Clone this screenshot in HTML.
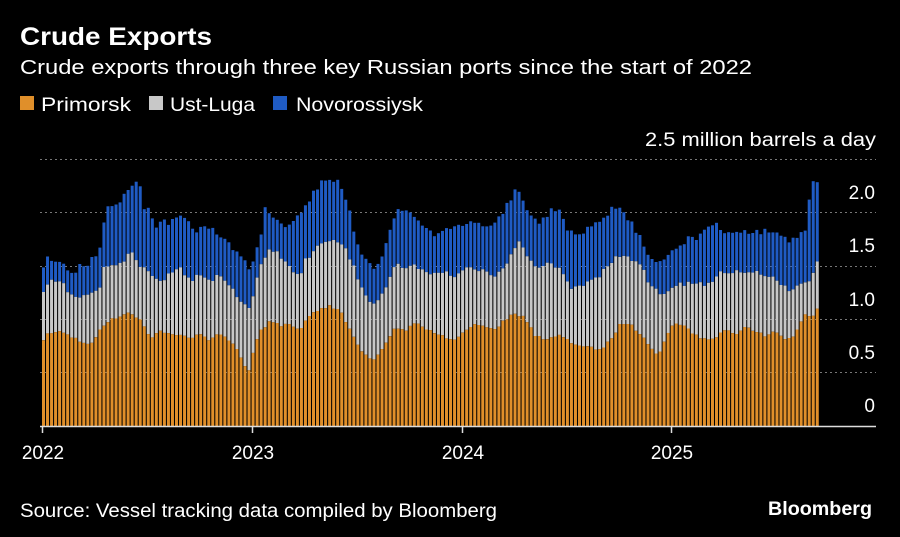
<!DOCTYPE html>
<html><head><meta charset="utf-8"><style>
html,body{margin:0;padding:0;background:#000;width:900px;height:537px;overflow:hidden}
text{font-family:"Liberation Sans","DejaVu Sans",sans-serif}
</style></head><body>
<svg id="s" width="900" height="537" xmlns="http://www.w3.org/2000/svg" style="position:absolute;left:0;top:0">
<rect width="900" height="537" fill="#000"/>
<text x="20" y="45" fill="#fff" font-size="25" font-weight="bold" textLength="192" lengthAdjust="spacingAndGlyphs">Crude Exports</text>
<text x="20" y="74" fill="#fff" font-size="20" textLength="732" lengthAdjust="spacingAndGlyphs">Crude exports through three key Russian ports since the start of 2022</text>
<rect x="20" y="96" width="14" height="14" fill="#e08f2a"/><text x="41" y="111" fill="#fff" font-size="19" textLength="90" lengthAdjust="spacingAndGlyphs">Primorsk</text>
<rect x="149" y="96" width="14" height="14" fill="#c8c8c8"/><text x="170" y="111" fill="#fff" font-size="19" textLength="85" lengthAdjust="spacingAndGlyphs">Ust-Luga</text>
<rect x="273" y="96" width="14" height="14" fill="#1f5bc4"/><text x="296" y="111" fill="#fff" font-size="19" textLength="127" lengthAdjust="spacingAndGlyphs">Novorossiysk</text>
<text x="645" y="146" fill="#fff" font-size="19" textLength="231" lengthAdjust="spacingAndGlyphs">2.5 million barrels a day</text>
<g id="grid" stroke="#777" stroke-dasharray="2,3" stroke-width="1">
<line x1="40" x2="876" y1="159.5" y2="159.5"/><line x1="40" x2="876" y1="212.5" y2="212.5"/><line x1="40" x2="876" y1="266.5" y2="266.5"/><line x1="40" x2="876" y1="319.5" y2="319.5"/><line x1="40" x2="876" y1="372.5" y2="372.5"/>
</g>
<g id="bars"></g>
<g fill="#fff" font-size="19" text-anchor="end">
<text x="875" y="199">2.0</text><text x="875" y="252">1.5</text><text x="875" y="306">1.0</text><text x="875" y="359">0.5</text><text x="875" y="412">0</text>
</g>
<line x1="40" x2="876" y1="426.5" y2="426.5" stroke="#ddd" stroke-width="1.5"/>
<g stroke="#ddd" stroke-width="1.5"><line x1="42.5" x2="42.5" y1="426" y2="433"/><line x1="252.5" x2="252.5" y1="426" y2="433"/><line x1="462.5" x2="462.5" y1="426" y2="433"/><line x1="671.5" x2="671.5" y1="426" y2="433"/></g>
<g fill="#fff" font-size="19" text-anchor="middle">
<text x="43" y="459">2022</text><text x="253" y="459">2023</text><text x="463" y="459">2024</text><text x="672" y="459">2025</text>
</g>
<text x="20" y="517" fill="#fff" font-size="19" textLength="477" lengthAdjust="spacingAndGlyphs">Source: Vessel tracking data compiled by Bloomberg</text>
<text x="768" y="515" fill="#fff" font-size="19" font-weight="bold" textLength="104" lengthAdjust="spacingAndGlyphs">Bloomberg</text>
</svg>
<script>
var O=[[42,350],[45,332],[60,332],[70,335],[80,342],[90,345],[100,330],[110,320],[120,316],[130,313],[140,318],[150,338],[160,330],[170,335],[180,335],[190,338],[200,335],[210,340],[220,333],[230,340],[240,355],[248,373],[255,345],[260,330],[270,322],[280,325],[290,325],[300,330],[310,315],[320,308],[330,306],[340,310],[350,330],[360,350],[370,358],[375,360],[385,345],[395,327],[405,332],[415,322],[425,328],[435,332],[445,338],[455,340],[465,330],[475,325],[485,327],[495,330],[505,320],[515,313],[525,318],[535,335],[545,340],[560,335],[570,342],[580,345],[590,346],[600,350],[610,340],[620,325],[630,322],[640,335],[650,345],[658,355],[665,340],[675,322],[685,325],[695,335],[705,340],[715,338],[725,330],[735,335],[745,328],[755,330],[765,335],[775,330],[785,340],[795,335],[805,313],[812,316],[818,308]];
var G=[[42,295],[50,278],[60,282],[70,292],[80,298],[90,295],[100,286],[105,265],[115,265],[125,260],[130,250],[140,265],[150,272],[160,280],[170,275],[180,268],[190,282],[200,275],[210,280],[220,275],[230,285],[240,300],[248,310],[255,288],[262,260],[270,248],[280,256],[290,268],[300,275],[305,260],[315,250],[325,240],[335,240],[345,248],[355,270],[365,295],[375,305],[385,290],[395,265],[405,268],[415,265],[425,270],[435,275],[445,273],[455,275],[465,266],[475,268],[485,270],[495,275],[505,264],[515,250],[520,242],[530,260],[540,270],[550,262],[560,270],[570,287],[580,288],[590,282],[600,275],[610,262],[620,255],[630,258],[640,262],[650,285],[660,295],[670,290],[680,285],[690,282],[700,284],[710,283],[720,270],[730,272],[740,270],[750,272],[760,273],[770,275],[780,285],[790,290],[800,282],[810,282],[818,258]];
var T=[[42,272],[48,258],[55,260],[62,265],[70,275],[80,265],[90,262],[100,250],[105,212],[110,205],[120,200],[127,193],[135,180],[140,185],[145,210],[150,210],[155,225],[165,222],[175,222],[185,215],[195,230],[205,228],[215,232],[225,240],[235,250],[245,262],[250,272],[255,258],[262,230],[266,205],[275,222],[285,225],[295,222],[300,212],[310,198],[320,185],[328,178],[340,180],[348,205],[355,235],[365,260],[375,268],[385,250],[395,212],[405,210],[415,218],[425,228],[435,238],[445,226],[455,225],[465,228],[475,222],[485,230],[495,225],[505,210],[515,190],[520,195],[530,212],[540,225],[550,210],[560,213],[570,232],[580,238],[590,225],[600,222],[610,210],[620,208],[630,220],[640,238],[650,260],[658,263],[665,258],[675,250],[685,240],[695,238],[705,228],[715,225],[725,232],[735,230],[745,232],[755,233],[765,230],[775,232],[785,240],[795,240],[805,232],[812,183],[818,182]];
function f(a,x){for(var i=0;i<a.length-1;i++){if(x<=a[i+1][0]){var t=(x-a[i][0])/(a[i+1][0]-a[i][0]);return a[i][1]+t*(a[i+1][1]-a[i][1]);}}return a[a.length-1][1];}
var s=1,h='';function r(){s=(s*9301+49297)%233280;return s/233280-0.5;}
for(var x=42;x<=819;x+=4.03){var cx=x+1.5;var o=f(O,cx)+r()*3,g=f(G,cx)+r()*5,t=f(T,cx)+r()*7;if(g>o-4)g=o-4;if(t>g-4)t=g-4;
h+='<rect x="'+x.toFixed(2)+'" y="'+t.toFixed(1)+'" width="3" height="'+(g-t).toFixed(1)+'" fill="#1f5bc4"/>';
h+='<rect x="'+x.toFixed(2)+'" y="'+g.toFixed(1)+'" width="3" height="'+(o-g).toFixed(1)+'" fill="#c8c8c8"/>';
h+='<rect x="'+x.toFixed(2)+'" y="'+o.toFixed(1)+'" width="3" height="'+(426-o).toFixed(1)+'" fill="#e08f2a"/>';}
document.getElementById('bars').innerHTML=h;
</script>
</body></html>
